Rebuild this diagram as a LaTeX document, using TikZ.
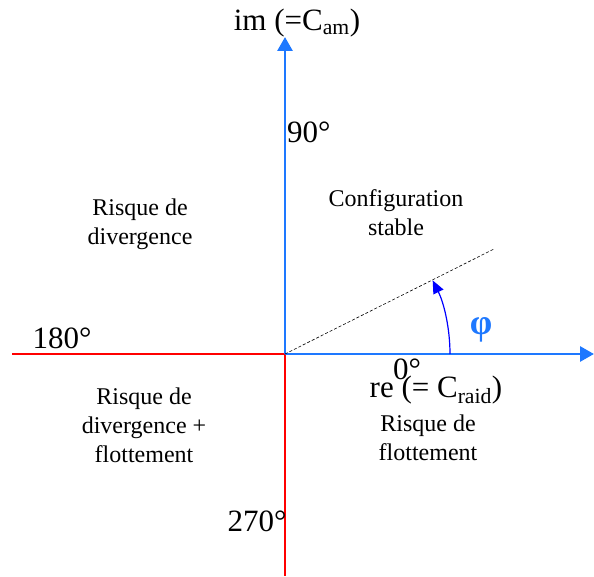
\documentclass[tikz,border=0pt]{standalone}
\usepackage{fontspec}
\setmainfont{Liberation Serif}
\usepackage{xcolor}
\usepackage{tikz}
\usetikzlibrary{calc,arrows.meta}

\definecolor{axisblue}{RGB}{30,120,255}

\begin{document}
\begin{tikzpicture}[x=1pt,y=1pt,
    big/.style={font=\fontsize{31}{36}\selectfont,inner sep=0pt},
    zone/.style={font=\fontsize{24}{29}\selectfont,align=center,inner sep=0pt}]
  \useasboundingbox (0,0) rectangle (594,576);
  % axes
  \coordinate (O) at (285,222);
  \coordinate (top) at (285,539);
  \coordinate (right) at (594,222);
  \coordinate (left) at (12,222);
  \coordinate (bottom) at (285,0);
  \coordinate (ray) at (494,327);
  \draw[red,line width=2.8pt] (left) -- (O) -- (bottom);
  \draw[axisblue,line width=2.8pt,-{Triangle[width=15pt,length=14pt]}] (O) -- (top);
  \draw[axisblue,line width=2.8pt,-{Triangle[width=15pt,length=14pt]}] (O) -- (right);
  \draw[dashed,line width=0.6pt,dash pattern=on 3pt off 2pt] (O) -- (ray);
  \draw[blue,line width=1.2pt,-{Triangle[width=11pt,length=13pt]}]
    ($(O)+(165,0)$) arc (0:26.5:165);
  % labels
  \node[big] (im) at (297,553) {im (=C\textsubscript{am})};
  \node[big,anchor=west] (deg90) at (287,444) {90°};
  \node[big] (deg180) at (62,238) {180°};
  \node[big] (deg0) at (407,207) {0°};
  \node[big] (re) at (436,186) {re (= C\textsubscript{raid})};
  \node[big] (deg270) at (257,55) {270°};
  \node[text=axisblue,font=\fontsize{36}{38}\selectfont\bfseries] (phi) at (481,246) {φ};
  % zones
  \node[zone] (diverg) at (140,352) {Risque de\\divergence};
  \node[zone] (stable) at (396,363) {Configuration\\stable};
  \node[zone] (flott) at (428,138) {Risque de\\flottement};
  \node[zone] (both) at (144,151) {Risque de\\divergence +\\flottement};
\end{tikzpicture}
\end{document}
